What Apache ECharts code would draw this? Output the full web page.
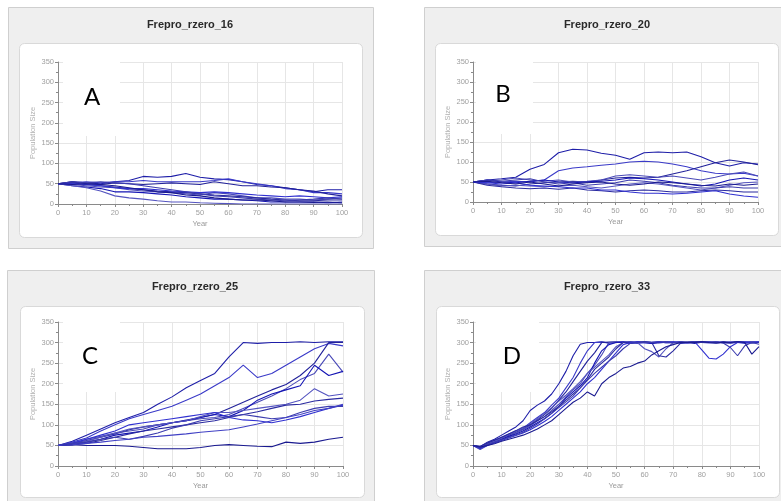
<!DOCTYPE html>
<html>
<head>
<meta charset="utf-8">
<script src="https://cdn.jsdelivr.net/npm/echarts@6/dist/echarts.min.js"></script>
<style>
  html, body { margin: 0; padding: 0; background: #ffffff; }
  #chart { width: 781px; height: 501px; }
</style>
</head>
<body>
<div id="chart"></div>
<script>
// Simulation years (every 5 years for A–C, every 2.5 years for D)
const years = [0,5,10,15,20,25,30,35,40,45,50,55,60,65,70,75,80,85,90,95,100];
const yearsD = [0,2.5,5,7.5,10,12.5,15,17.5,20,22.5,25,27.5,30,32.5,35,37.5,40,42.5,45,47.5,50,
                52.5,55,57.5,60,62.5,65,67.5,70,72.5,75,77.5,80,82.5,85,87.5,90,92.5,95,97.5,100];

const panelTitles = ['Frepro_rzero_16', 'Frepro_rzero_20', 'Frepro_rzero_25', 'Frepro_rzero_33'];
const panelLetters = ['A', 'B', 'C', 'D'];

// Population size per run, scenario rzero 16
const runsA = [
  [50,55,52,50,55,58,68,66,68,75,66,62,60,55,48,45,40,35,30,35,35],
  [50,52,55,52,55,55,58,55,55,55,55,58,62,55,50,45,38,35,28,28,25],
  [50,55,50,48,52,50,48,50,52,50,48,55,50,45,45,42,40,35,32,25,20],
  [50,48,45,42,40,35,32,30,28,25,22,28,25,20,15,15,12,12,10,12,15],
  [50,45,42,38,30,30,28,25,22,18,15,12,12,10,8,5,5,5,5,3,5],
  [50,45,40,32,20,15,12,8,5,5,3,2,1,0,0,0,0,0,0,0,0],
  [50,52,48,45,42,38,35,32,30,28,25,22,20,18,15,12,10,8,8,10,10],
  [50,50,48,45,40,38,38,35,32,30,28,30,28,25,22,20,18,20,18,15,18],
  [50,55,52,55,52,50,45,40,35,30,25,20,18,15,12,10,8,10,12,15,12],
  [50,48,50,48,45,40,35,30,28,22,20,15,12,10,10,8,5,5,4,5,3]
];

// Population size per run, scenario rzero 20
const runsB = [
  [50,55,58,62,82,94,123,132,130,122,117,107,123,125,123,125,113,98,90,98,95],
  [50,48,50,52,50,55,78,85,88,92,95,100,102,100,95,88,78,72,70,72,65],
  [50,45,42,40,45,48,50,52,50,55,60,62,60,62,70,78,88,98,105,100,93],
  [50,52,55,60,55,52,55,50,52,55,65,68,65,62,65,60,55,62,70,75,65],
  [50,55,50,48,52,55,50,48,50,52,55,60,58,55,50,45,40,45,55,60,55],
  [50,45,40,42,40,38,40,42,38,35,40,45,48,45,40,35,30,35,42,48,50],
  [50,42,38,35,33,35,32,35,30,28,25,28,30,28,25,25,28,30,28,25,25],
  [50,48,45,48,42,40,38,35,35,30,30,25,22,22,20,22,25,28,20,15,12],
  [50,55,52,55,58,50,45,48,42,45,48,55,52,48,42,38,35,35,38,35,35],
  [50,52,48,45,50,45,40,45,48,50,45,42,45,50,48,45,42,40,45,42,45]
];

// Population size per run, scenario rzero 25
const runsC = [
  [50,60,75,90,105,118,130,150,168,190,208,225,265,300,298,300,300,302,300,302,302],
  [50,58,68,85,100,115,125,135,145,160,175,195,215,245,215,225,245,265,285,298,292],
  [50,55,62,70,78,88,95,100,105,112,118,125,140,155,170,185,198,220,250,300,300],
  [50,55,65,72,80,85,90,100,105,110,115,118,125,140,155,170,188,210,225,272,228],
  [50,52,58,65,75,80,85,95,105,110,118,125,120,135,160,175,185,195,245,220,230],
  [50,55,60,70,80,90,95,100,105,110,120,130,130,135,140,145,150,160,188,170,175],
  [50,52,55,62,70,78,85,90,95,100,105,110,118,125,132,140,148,150,158,162,165],
  [50,55,65,75,85,100,105,110,115,120,125,130,118,112,110,105,112,120,130,140,148],
  [50,55,58,65,70,65,72,80,92,100,110,115,120,125,120,115,118,130,140,145,145],
  [50,52,50,50,50,48,45,42,42,42,45,50,52,50,48,47,58,55,58,65,70],
  [50,52,55,58,62,65,70,72,75,78,82,85,88,95,102,110,118,125,135,140,150]
];

// Population size per run, scenario rzero 33
const runsD = [
  [50,47,58,65,75,85,95,110,135,148,158,175,200,230,268,296,300,300,302,299,300,301,298,300,302,300,299,301,300,302,300,298,301,300,302,299,300,301,300,302,300],
  [50,42,52,60,70,78,85,92,105,118,130,148,165,190,215,250,280,300,301,299,300,302,300,298,301,300,302,299,300,301,300,302,300,299,301,300,302,300,298,301,300],
  [50,45,55,62,68,75,82,90,100,112,125,140,160,180,205,230,255,275,300,301,302,300,299,301,300,298,300,302,300,301,299,300,302,300,301,300,299,302,300,301,300],
  [50,40,50,58,65,72,80,88,98,110,120,135,150,168,185,200,225,245,270,300,301,300,302,299,300,301,300,302,300,299,301,300,302,300,299,301,300,302,300,299,300],
  [50,44,52,58,65,72,78,85,95,105,115,128,145,165,180,195,215,250,280,295,300,301,300,302,300,298,301,300,302,299,300,301,300,302,300,301,299,300,302,300,301],
  [50,46,54,60,68,76,84,92,102,115,128,142,158,172,188,205,225,240,255,270,290,300,302,300,285,278,265,285,300,301,300,302,300,300,301,300,299,301,300,302,300],
  [50,48,56,63,70,78,86,95,100,110,120,132,145,160,175,190,210,235,250,265,285,300,301,300,302,300,268,265,280,298,300,301,302,300,299,301,300,302,300,299,301],
  [50,43,50,56,62,68,74,80,88,98,108,120,135,150,165,180,200,215,235,255,275,295,300,301,299,300,302,300,301,300,299,302,282,262,260,272,290,300,301,300,302],
  [50,45,52,58,64,70,76,82,92,102,115,128,142,156,170,190,208,225,240,255,268,285,298,300,301,300,302,300,299,301,300,302,300,301,300,299,288,268,292,300,296],
  [50,46,50,54,60,65,70,75,82,90,100,110,125,140,155,165,180,170,200,215,225,238,242,250,255,270,280,290,295,300,301,300,302,300,299,301,300,302,300,272,290]
];

// Panel geometry: outer frame, inner card, plot area, letter badge
const panels = [
  { outer:[8,7,365,241],   card:[19,43,343,194],  plot:[58,62,284,142],  badge:[63,62,57,74],  letter:[92,97],  title:[190,25] },
  { outer:[424,7,370,239], card:[435,43,343,192], plot:[473,62,285,140], badge:[476,62,57,72], letter:[503,94], title:[607,25] },
  { outer:[7,270,367,240], card:[20,306,344,191], plot:[58,322,285,144], badge:[63,322,57,70], letter:[90,356], title:[195,287] },
  { outer:[424,270,370,240], card:[436,306,343,191], plot:[473,322,286,144], badge:[476,322,63,70], letter:[512,356], title:[607,287] }
];
const runs = [runsA, runsB, runsC, runsD];
const xs = [years, years, years, yearsD];

const lineColors = ['#1e1ea8','#3a3ac8','#22229a','#4a4ab8','#1414b4','#5454c0','#2a2aa0','#3030d0','#3c3cae','#1a1a90','#4040c4'];

const tickFont = 'Liberation Sans Narrow, Arial Narrow, Liberation Sans, sans-serif';
const axisGrey = '#8a8a8a';

const grids = [], xAxes = [], yAxes = [], series = [], graphics = [];

panels.forEach((p, i) => {
  graphics.push({
    type: 'rect', z: -20, silent: true,
    shape: { x: p.outer[0] + 0.5, y: p.outer[1] + 0.5, width: p.outer[2], height: p.outer[3] },
    style: { fill: '#efefef', stroke: '#cfcfcf', lineWidth: 1 }
  });
  graphics.push({
    type: 'rect', z: -19, silent: true,
    shape: { x: p.card[0] + 0.5, y: p.card[1] + 0.5, width: p.card[2], height: p.card[3], r: 5 },
    style: { fill: '#ffffff', stroke: '#d9d9d9', lineWidth: 1 }
  });
  graphics.push({
    type: 'text', z: 10, silent: true,
    x: p.title[0], y: p.title[1],
    style: { text: panelTitles[i], fill: '#2a2a2a', font: 'bold 11px "Liberation Sans", Arial, sans-serif',
             textAlign: 'center', textVerticalAlign: 'middle' }
  });
  graphics.push({
    type: 'rect', z: 50, silent: true,
    shape: { x: p.badge[0], y: p.badge[1], width: p.badge[2], height: p.badge[3] },
    style: { fill: '#ffffff' }
  });
  graphics.push({
    type: 'text', z: 51, silent: true,
    x: p.letter[0], y: p.letter[1],
    style: { text: panelLetters[i], fill: '#000000', font: '24px Lato, "Open Sans", sans-serif',
             textAlign: 'center', textVerticalAlign: 'middle' }
  });

  grids.push({ left: p.plot[0], top: p.plot[1], width: p.plot[2], height: p.plot[3], containLabel: false });

  xAxes.push({
    gridIndex: i, type: 'value', min: 0, max: 100, interval: 10,
    name: 'Year', nameLocation: 'middle', nameGap: 16,
    nameTextStyle: { color: '#9a9a9a', fontSize: 7.5, fontFamily: tickFont },
    axisLine: { show: true, lineStyle: { color: axisGrey, width: 1 } },
    axisTick: { show: true, length: 3, lineStyle: { color: axisGrey } },
    minorTick: { show: true, splitNumber: 2, length: 2, lineStyle: { color: axisGrey } },
    axisLabel: { color: '#a0a0a0', fontSize: 7.5, fontFamily: tickFont, margin: 5 },
    splitLine: { show: true, lineStyle: { color: '#e6e6e6', width: 1 } }
  });
  yAxes.push({
    gridIndex: i, type: 'value', min: 0, max: 350, interval: 50,
    name: 'Population Size', nameLocation: 'middle', nameGap: 21, nameRotate: 90,
    nameTextStyle: { color: '#b0b0b0', fontSize: 7.5, fontFamily: tickFont },
    axisLine: { show: true, lineStyle: { color: axisGrey, width: 1 } },
    axisTick: { show: true, length: 3, lineStyle: { color: axisGrey } },
    minorTick: { show: true, splitNumber: 2, length: 2, lineStyle: { color: axisGrey } },
    axisLabel: { color: '#a0a0a0', fontSize: 7.5, fontFamily: tickFont, margin: 4 },
    splitLine: { show: true, lineStyle: { color: '#e6e6e6', width: 1 } }
  });

  runs[i].forEach((vals, k) => {
    series.push({
      type: 'line', xAxisIndex: i, yAxisIndex: i,
      data: xs[i].map((yr, j) => [yr, vals[j]]),
      showSymbol: false, symbol: 'none', silent: true,
      lineStyle: { color: lineColors[k % lineColors.length], width: 1.1 },
      z: 5
    });
  });
});

const chart = echarts.init(document.getElementById('chart'), null, { renderer: 'canvas' });
chart.setOption({
  animation: false,
  backgroundColor: '#ffffff',
  grid: grids,
  xAxis: xAxes,
  yAxis: yAxes,
  series: series,
  graphic: { elements: graphics }
});
</script>
</body>
</html>
